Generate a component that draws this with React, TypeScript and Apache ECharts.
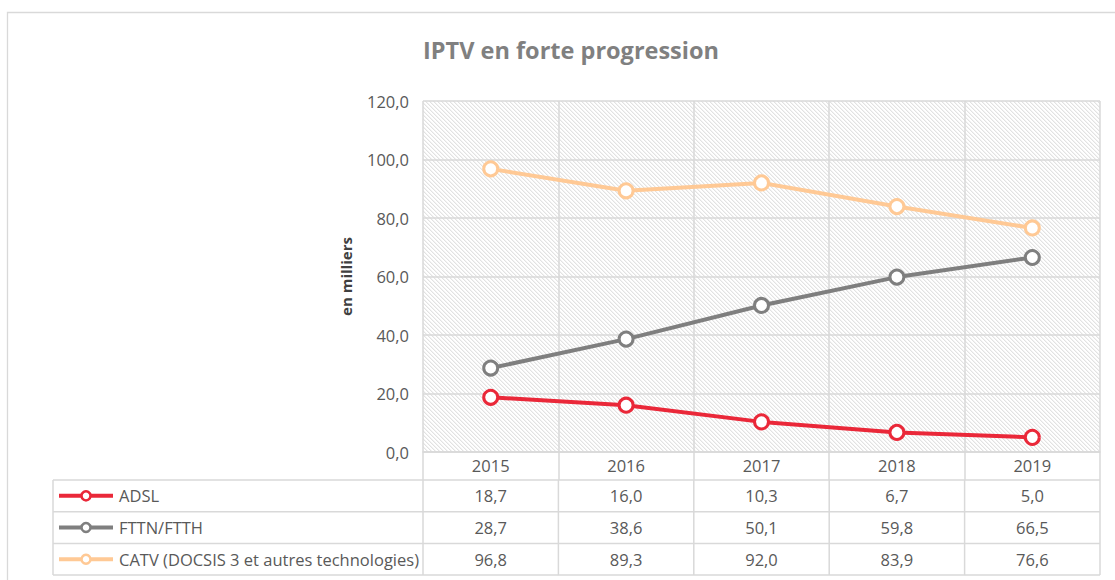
import React, { useEffect, useRef } from "react";
import * as echarts from "echarts";

// Years shown on the category axis and in the table header
const years = ["2015", "2016", "2017", "2018", "2019"];

// IPTV subscribers by access technology, in thousands
const adsl = [18.7, 16.0, 10.3, 6.7, 5.0];
const fttn = [28.7, 38.6, 50.1, 59.8, 66.5];
const catv = [96.8, 89.3, 92.0, 83.9, 76.6];

const seriesNames = ["ADSL", "FTTN/FTTH", "CATV (DOCSIS 3 et autres technologies)"];
const seriesColors = ["#ea2839", "#7f7f7f", "#ffc995"];

const yMin = 0;
const yMax = 120;
const yStep = 20;

const title = "IPTV en forte progression";
const yName = "en milliers";

const FONT = "'Open Sans', 'Liberation Sans', sans-serif";
const TEXT = "#595959";
const LINE = "#d9d9d9";
const FS = 16.5;

const fmt = (v: number) => v.toFixed(1).replace(".", ",");

// Layout of the plot and the data table under it
const W = 1115;
const H = 580;
const GRID_LEFT = 423;
const GRID_RIGHT = 1100;
const GRID_TOP = 101;
const GRID_BOTTOM = 452;
const HEADER_H = 28;
const ROW_H = 31.7;
const TABLE_LEFT = 53;

// Light downward-diagonal hatch for the plot background
function makeHatch(): HTMLCanvasElement {
  const c = document.createElement("canvas");
  c.width = 8;
  c.height = 8;
  const ctx = c.getContext("2d")!;
  const img = ctx.createImageData(8, 8);
  for (let y = 0; y < 8; y++) {
    for (let x = 0; x < 8; x++) {
      const k = (((x - y) % 4) + 4) % 4;
      const v = k === 0 ? 226 : k === 1 ? 243 : 255;
      const i = (y * 8 + x) * 4;
      img.data[i] = v;
      img.data[i + 1] = v;
      img.data[i + 2] = v;
      img.data[i + 3] = 255;
    }
  }
  ctx.putImageData(img, 0, 0);
  return c;
}

export default function App() {
  const ref = useRef<HTMLDivElement>(null);

  useEffect(() => {
    if (!ref.current) return;
    const chart = echarts.init(ref.current, null, { renderer: "svg", width: W, height: H });
    const values = [adsl, fttn, catv];

    chart.setOption({
      animation: false,
      backgroundColor: "#ffffff",
      title: {
        text: title,
        left: 566,
        top: 33,
        textAlign: "center",
        textStyle: { fontFamily: FONT, fontSize: 23.5, fontWeight: "bold", color: "#808080" },
      },
      grid: {
        show: true,
        left: GRID_LEFT,
        right: W - GRID_RIGHT,
        top: GRID_TOP,
        bottom: H - GRID_BOTTOM,
        borderWidth: 0,
        backgroundColor: { image: makeHatch(), repeat: "repeat", imageWidth: 8, imageHeight: 8 },
      },
      xAxis: {
        type: "category",
        data: years,
        boundaryGap: true,
        axisLine: { show: true, lineStyle: { color: LINE, width: 1.5 } },
        axisTick: { show: true, length: HEADER_H, lineStyle: { color: LINE, width: 1.5 } },
        axisLabel: { color: TEXT, fontFamily: FONT, fontSize: FS, margin: 5 },
        splitLine: { show: true, lineStyle: { color: LINE, width: 1.5 } },
      },
      yAxis: {
        type: "value",
        min: yMin,
        max: yMax,
        interval: yStep,
        name: yName,
        nameLocation: "middle",
        nameGap: 70,
        nameTextStyle: { fontFamily: FONT, fontSize: 15, fontWeight: "bold", color: "#404040" },
        axisLine: { show: false },
        axisTick: { show: false },
        axisLabel: { color: TEXT, fontFamily: FONT, fontSize: FS, margin: 14, formatter: (v: number) => fmt(v) },
        splitLine: { show: true, lineStyle: { color: LINE, width: 1.5 } },
      },
      series: values.map((d, i) => ({
        name: seriesNames[i],
        type: "line",
        data: d,
        symbol: "circle",
        symbolSize: 14,
        showAllSymbol: true,
        lineStyle: { color: seriesColors[i], width: 4 },
        itemStyle: { color: "#ffffff", borderColor: seriesColors[i], borderWidth: 3 },
        z: 3 + i,
      })),
    });

    // Data table under the plot, aligned on the category axis
    const cx = years.map((y, i) => chart.convertToPixel({ xAxisIndex: 0 }, i) as number);
    const step = cx.length > 1 ? cx[1] - cx[0] : GRID_RIGHT - GRID_LEFT;
    const colEdges = [cx[0] - step / 2, ...cx.map((c) => c + step / 2)];
    const tableTop = GRID_BOTTOM + HEADER_H;
    const rowEdges = [0, 1, 2, 3].map((k) => tableTop + k * ROW_H);
    const tableRight = colEdges[colEdges.length - 1];

    const g: any[] = [];
    // chart frame
    g.push({
      type: "rect",
      shape: { x: 7.5, y: 12.5, width: W + 20, height: H + 20 },
      style: { fill: "none", stroke: LINE, lineWidth: 1.3 },
      silent: true,
      z: 0,
    });
    rowEdges.forEach((y) =>
      g.push({
        type: "line",
        shape: { x1: TABLE_LEFT, y1: y, x2: tableRight, y2: y },
        style: { stroke: LINE, lineWidth: 1.5 },
      })
    );
    [TABLE_LEFT, ...colEdges].forEach((x) =>
      g.push({
        type: "line",
        shape: { x1: x, y1: tableTop, x2: x, y2: rowEdges[3] },
        style: { stroke: LINE, lineWidth: 1.5 },
      })
    );
    values.forEach((d, r) => {
      const yc = (rowEdges[r] + rowEdges[r + 1]) / 2;
      const col = seriesColors[r];
      g.push({
        type: "line",
        shape: { x1: 59, y1: yc, x2: 113, y2: yc },
        style: { stroke: col, lineWidth: 4 },
        z: 10,
      });
      g.push({
        type: "circle",
        shape: { cx: 86, cy: yc, r: 4.5 },
        style: { fill: "#ffffff", stroke: col, lineWidth: 2.5 },
        z: 11,
      });
      g.push({
        type: "text",
        x: 119,
        y: yc,
        style: { text: seriesNames[r], fill: TEXT, font: `${FS}px ${FONT}`, textVerticalAlign: "middle" },
        z: 11,
      });
      d.forEach((v, c) =>
        g.push({
          type: "text",
          x: cx[c],
          y: yc,
          style: {
            text: fmt(v),
            fill: TEXT,
            font: `${FS}px ${FONT}`,
            textAlign: "center",
            textVerticalAlign: "middle",
          },
          z: 11,
        })
      );
    });

    chart.setOption({ graphic: g });

    return () => chart.dispose();
  }, []);

  return (
    <div
      ref={ref}
      style={{ position: "fixed", left: 0, top: 0, width: W, height: H, background: "#fff" }}
    />
  );
}
